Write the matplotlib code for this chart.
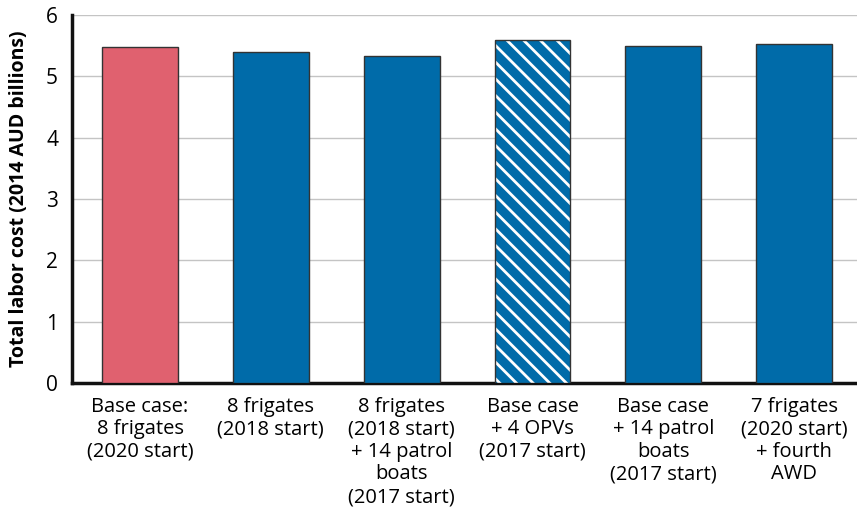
import numpy as np
import matplotlib.pyplot as plt

plt.rcParams['font.family'] = ['Open Sans', 'DejaVu Sans']
plt.rcParams['hatch.linewidth'] = 2.0

# scenarios shown on the x axis
labels = [
    "Base case:\n8 frigates\n(2020 start)",
    "8 frigates\n(2018 start)",
    "8 frigates\n(2018 start)\n+ 14 patrol\nboats\n(2017 start)",
    "Base case\n+ 4 OPVs\n(2017 start)",
    "Base case\n+ 14 patrol\nboats\n(2017 start)",
    "7 frigates\n(2020 start)\n+ fourth\nAWD",
]
# total labor cost, 2014 AUD billions
costs = [5.48, 5.40, 5.33, 5.60, 5.50, 5.53]
hatched = [False, False, False, True, False, False]

PINK = "#E0616F"
BLUE = "#006BA9"

fig = plt.figure(figsize=(8.57, 5.21), dpi=100)
ax = fig.add_axes([0.084, 0.265, 0.916, 0.706])

x = np.arange(len(costs))
colors = [PINK] + [BLUE] * (len(costs) - 1)
ax.bar(x, costs, width=0.58, color=colors, linewidth=0, zorder=3)

# white stripes on the OPV case, hatch colour follows edgecolor
hx = [xi for xi, h in zip(x, hatched) if h]
hc = [c for c, h in zip(costs, hatched) if h]
ax.bar(hx, hc, width=0.58, color="none", edgecolor="white", hatch="\\\\", linewidth=0, zorder=4)

# outlines on top
ax.bar(x, costs, width=0.58, color="none", edgecolor="#333333", linewidth=1.0, zorder=5)

ax.set_ylim(0, 6)
ax.set_xlim(-0.52, 5.48)
ax.set_yticks(range(7))
ax.yaxis.grid(True, color="#C4C4C4", linewidth=1.0, zorder=0)
ax.set_axisbelow(True)

ax.set_xticks(x)
ax.set_xticklabels(labels, fontsize=14.5, linespacing=1.17, va="top")
ax.tick_params(axis="x", length=0, pad=10)
ax.tick_params(axis="y", length=0, labelsize=15, pad=10)

for s in ["top", "right"]:
    ax.spines[s].set_visible(False)
for s in ["left", "bottom"]:
    ax.spines[s].set_linewidth(2.5)
    ax.spines[s].set_color("#111111")

ax.set_ylabel("Total labor cost (2014 AUD billions)", fontsize=14, fontweight="bold", labelpad=12)

fig.savefig("out.png", dpi=100)
